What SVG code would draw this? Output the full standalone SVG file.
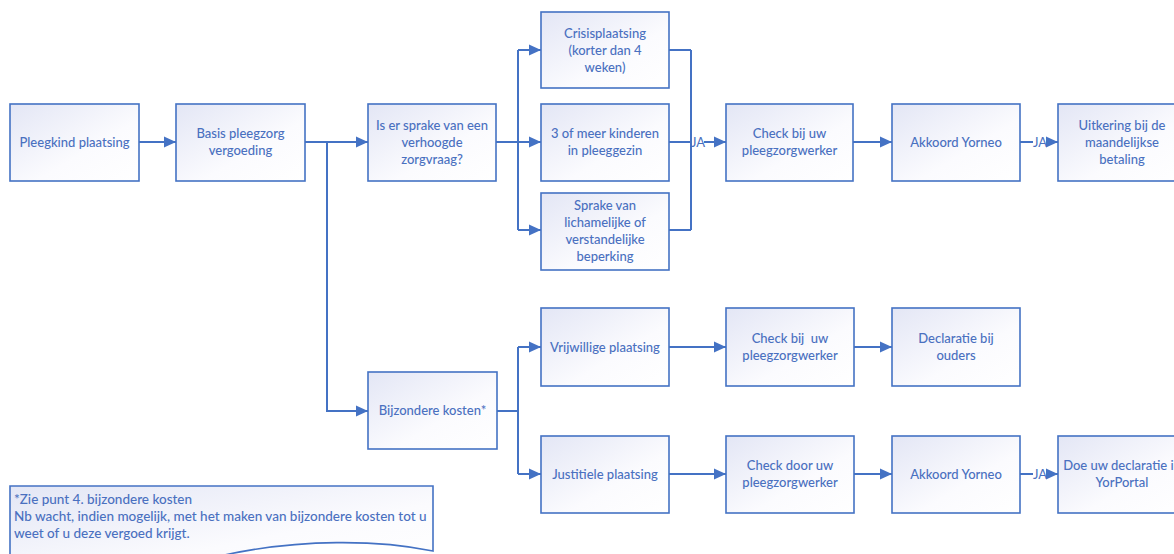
<svg xmlns="http://www.w3.org/2000/svg" width="1174" height="554" viewBox="0 0 1174 554">
<defs>
<linearGradient id="g" x1="0" y1="0" x2="1" y2="1">
<stop offset="0" stop-color="#e3e6f5"/>
<stop offset="0.6" stop-color="#fbfbfe"/>
<stop offset="1" stop-color="#ffffff"/>
</linearGradient>
<marker id="ah" markerUnits="userSpaceOnUse" markerWidth="12" markerHeight="12" viewBox="0 0 12 12" refX="12" refY="6" orient="auto">
<path d="M0,0.5 L12,6 L0,11.5 Z" fill="#4472c4"/>
</marker>
<style>
.box{fill:url(#g);stroke:#4472c4;stroke-width:1.6}
.t{font-family:Lato,"Liberation Sans",sans-serif;font-size:13px;font-weight:500;fill:#4a70c0;text-anchor:middle;dominant-baseline:central}
.n{font-family:Lato,"Liberation Sans",sans-serif;font-size:13.5px;font-weight:500;fill:#4a70c0;dominant-baseline:central}
.c{fill:none;stroke:#4472c4;stroke-width:2}
.a{marker-end:url(#ah)}
.ja{font-family:Lato,"Liberation Sans",sans-serif;font-size:13px;fill:#4a70c0;dominant-baseline:central}
</style>
</defs>
<rect width="1174" height="554" fill="#ffffff"/>

<g id="connectors">
<path class="c a" d="M139,142 H176"/>
<path class="c a" d="M305,142 H368"/>
<path class="c a" d="M327,142 V411 H368"/>
<path class="c" d="M496,142 H518"/>
<path class="c" d="M518,50 V230"/>
<path class="c a" d="M518,50 H541"/>
<path class="c a" d="M518,142 H541"/>
<path class="c a" d="M518,230 H541"/>
<path class="c" d="M669,50 H691 M669,142 H691 M669,230 H691"/>
<path class="c" d="M691,50 V230"/>
<text class="ja" x="691" y="142">JA</text>
<path class="c a" d="M704,142 H726"/>
<path class="c a" d="M853,142 H892"/>
<path class="c" d="M1020,142 H1033"/>
<text class="ja" x="1033" y="142">JA</text>
<path class="c a" d="M1046,142 H1058"/>
<path class="c" d="M497,411 H518"/>
<path class="c" d="M518,347 V474"/>
<path class="c a" d="M518,347 H541"/>
<path class="c a" d="M518,474 H541"/>
<path class="c a" d="M669,347 H726"/>
<path class="c a" d="M669,474 H726"/>
<path class="c a" d="M854,347 H892"/>
<path class="c a" d="M854,474 H892"/>
<path class="c" d="M1020,474 H1033"/>
<text class="ja" x="1033" y="474">JA</text>
<path class="c a" d="M1046,474 H1058"/>
</g>

<g id="n1"><rect class="box" x="10" y="104" width="129" height="77"/><text class="t" x="74.5" y="142">Pleegkind plaatsing</text></g>
<g id="n2"><rect class="box" x="176" y="104" width="129" height="77"/><text class="t" x="240.5" y="133">Basis pleegzorg</text><text class="t" x="240.5" y="150">vergoeding</text></g>
<g id="n3"><rect class="box" x="368" y="104" width="128" height="77"/><text class="t" x="432" y="125">Is er sprake van een</text><text class="t" x="432" y="142">verhoogde</text><text class="t" x="432" y="159">zorgvraag?</text></g>
<g id="n4"><rect class="box" x="541" y="12" width="128" height="76"/><text class="t" x="605" y="33">Crisisplaatsing</text><text class="t" x="605" y="50">(korter dan 4</text><text class="t" x="605" y="67">weken)</text></g>
<g id="n5"><rect class="box" x="541" y="104" width="128" height="77"/><text class="t" x="605" y="133">3 of meer kinderen</text><text class="t" x="605" y="150">in pleeggezin</text></g>
<g id="n6"><rect class="box" x="541" y="193" width="128" height="77"/><text class="t" x="605" y="205">Sprake van</text><text class="t" x="605" y="222">lichamelijke of</text><text class="t" x="605" y="239">verstandelijke</text><text class="t" x="605" y="256">beperking</text></g>
<g id="n7"><rect class="box" x="726" y="104" width="127" height="77"/><text class="t" x="789.5" y="133">Check bij uw</text><text class="t" x="789.5" y="150">pleegzorgwerker</text></g>
<g id="n8"><rect class="box" x="892" y="104" width="128" height="77"/><text class="t" x="956" y="142">Akkoord Yorneo</text></g>
<g id="n9"><rect class="box" x="1058" y="104" width="128" height="77"/><text class="t" x="1122" y="125">Uitkering bij de</text><text class="t" x="1122" y="142">maandelijkse</text><text class="t" x="1122" y="159">betaling</text></g>

<g id="n10"><rect class="box" x="368" y="372" width="129" height="77"/><text class="t" x="432.5" y="410">Bijzondere kosten*</text></g>
<g id="n11"><rect class="box" x="541" y="308" width="128" height="78"/><text class="t" x="605" y="347">Vrijwillige plaatsing</text></g>
<g id="n12"><rect class="box" x="541" y="436" width="128" height="77"/><text class="t" x="605" y="474">Justitiele plaatsing</text></g>
<g id="n13"><rect class="box" x="726" y="308" width="128" height="78"/><text class="t" x="790" y="338" xml:space="preserve">Check bij  uw</text><text class="t" x="790" y="355">pleegzorgwerker</text></g>
<g id="n14"><rect class="box" x="892" y="308" width="128" height="78"/><text class="t" x="956" y="338">Declaratie bij</text><text class="t" x="956" y="355">ouders</text></g>
<g id="n15"><rect class="box" x="726" y="436" width="128" height="77"/><text class="t" x="790" y="465">Check door uw</text><text class="t" x="790" y="482">pleegzorgwerker</text></g>
<g id="n16"><rect class="box" x="892" y="436" width="128" height="77"/><text class="t" x="956" y="474">Akkoord Yorneo</text></g>
<g id="n17"><rect class="box" x="1058" y="436" width="128" height="77"/><text class="t" x="1122" y="465">Doe uw declaratie in</text><text class="t" x="1122" y="482">YorPortal</text></g>

<g id="note">
<path class="box" d="M10,486 H433 V551 C380,540 300,538 220,556 C140,574 60,576 10,566 Z"/>
<text class="n" x="14" y="499">*Zie punt 4. bijzondere kosten</text>
<text class="n" x="14" y="516">Nb wacht, indien mogelijk, met het maken van bijzondere kosten tot u</text>
<text class="n" x="14" y="533">weet of u deze vergoed krijgt.</text>
</g>
</svg>
